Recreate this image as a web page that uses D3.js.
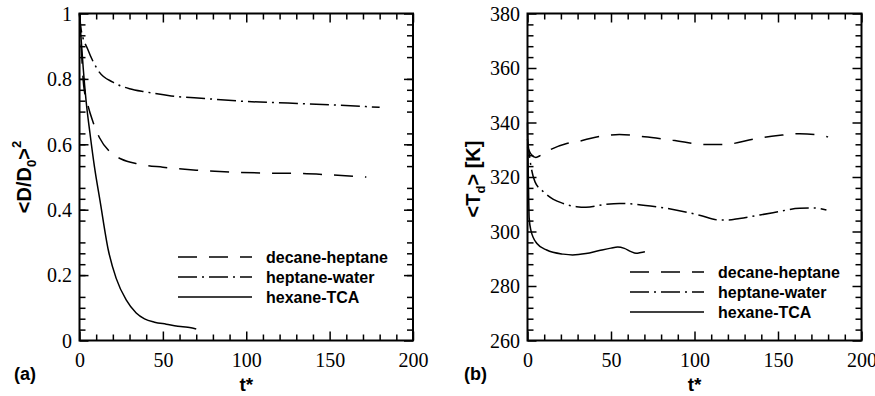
<!DOCTYPE html>
<html>
<head>
<meta charset="utf-8">
<script src="https://cdn.jsdelivr.net/npm/d3@7"></script>
<style>
  body { margin: 0; background: #fff; }
  svg { display: block; }
</style>
</head>
<body>
<svg id="chart" width="875" height="396"></svg>
<script>
// ---- data ----
const seriesNames = ["decane-heptane", "heptane-water", "hexane-TCA"]

// panel (a): <D/D0>^2 vs t*
const decDt = [0, 1, 2.5, 5, 8, 12, 18, 25, 35, 50, 70, 92, 112, 132, 152, 172]
const decDv = [1, 0.9, 0.78, 0.72, 0.67, 0.62, 0.578, 0.555, 0.54, 0.53, 0.521, 0.515, 0.512, 0.511, 0.506, 0.5]
const hepDt = [0, 1, 5, 12, 20, 30, 40, 55, 75, 100, 125, 150, 180]
const hepDv = [1, 0.95, 0.89, 0.82, 0.79, 0.77, 0.76, 0.748, 0.74, 0.731, 0.726, 0.721, 0.713]
const hexDt = [0, 1, 2.2, 4, 6.3, 9, 12.3, 17.3, 22, 28, 34, 39, 45, 52, 62, 66, 70]
const hexDv = [1, 0.92, 0.835, 0.73, 0.633, 0.53, 0.428, 0.276, 0.19, 0.124, 0.084, 0.066, 0.056, 0.05, 0.042, 0.04, 0.035]

// panel (b): <Td> [K] vs t*
const decTt = [0, 2, 5, 8, 13.5, 23.5, 31.4, 40, 47, 55, 70, 87, 107, 117, 137, 150, 163, 172, 180]
const decTv = [331, 328.5, 327.2, 328, 330, 332.3, 333.2, 334.5, 335.2, 335.6, 334.8, 333.5, 331.9, 331.9, 334.1, 335.2, 335.9, 335.6, 334.7]
const hepTt = [0, 1.5, 4.5, 9.5, 15.5, 21.4, 29.4, 35, 47, 55, 77, 103, 115, 120, 127, 147, 163, 172, 179]
const hepTv = [334, 326.2, 318.2, 314.6, 311.8, 310.3, 309.1, 308.9, 310, 310.3, 309.1, 306, 304.2, 304.2, 304.8, 306.9, 308.5, 308.6, 307.9]
const hexTt = [0, 0.5, 1, 2, 5.5, 11.5, 21.4, 27, 35, 43, 50, 54, 58, 62, 65, 68, 70.3]
const hexTv = [340, 320, 305, 300.5, 295.7, 293.2, 291.7, 291.4, 291.9, 293, 293.9, 294.3, 293.8, 292.6, 292, 292.3, 292.6]

const xTicks = [0, 50, 100, 150, 200]
const yTicksD = [0, 0.2, 0.4, 0.6, 0.8, 1]
const yTicksT = [260, 280, 300, 320, 340, 360, 380]

const dashes = ["19,12", "19,5,2,5", null]

const svg = d3.select("#chart")
const serif = "'Liberation Serif', 'Times New Roman', serif"
const sans = "'Liberation Sans', Arial, sans-serif"

function zip(t, v) { return t.map((d, i) => [d, v[i]]) }

function drawPanel(opts) {
  const g = svg.append("g")
  const x = d3.scaleLinear().domain([0, 200]).range([opts.left, opts.right])
  const y = d3.scaleLinear().domain(opts.yDomain).range([opts.bottom, opts.top])
  const xMinor = d3.range(0, 201, 10).filter(d => d % 50 != 0)
  const yStep = (opts.yDomain[1] - opts.yDomain[0]) / 30
  const yMinor = d3.range(0, 31).map(i => opts.yDomain[0] + i * yStep).filter((d, i) => i % 5 != 0)

  // ticks on all four sides, pointing inward; [axis, transform, label side]
  const axes = [
    [d3.axisBottom(x).tickValues(xTicks).tickSize(-9).tickFormat(d => d), "translate(0," + opts.bottom + ")", "x"],
    [d3.axisBottom(x).tickValues(xMinor).tickSize(-6).tickFormat(""), "translate(0," + opts.bottom + ")", ""],
    [d3.axisTop(x).tickValues(xTicks).tickSize(-9).tickFormat(""), "translate(0," + opts.top + ")", ""],
    [d3.axisTop(x).tickValues(xMinor).tickSize(-6).tickFormat(""), "translate(0," + opts.top + ")", ""],
    [d3.axisLeft(y).tickValues(opts.yTicks).tickSize(-9).tickFormat(d => d), "translate(" + opts.left + ",0)", "y"],
    [d3.axisLeft(y).tickValues(yMinor).tickSize(-6).tickFormat(""), "translate(" + opts.left + ",0)", ""],
    [d3.axisRight(y).tickValues(opts.yTicks).tickSize(-9).tickFormat(""), "translate(" + opts.right + ",0)", ""],
    [d3.axisRight(y).tickValues(yMinor).tickSize(-6).tickFormat(""), "translate(" + opts.right + ",0)", ""]
  ]
  axes.forEach(a => {
    const ag = g.append("g").attr("transform", a[1]).call(a[0])
    ag.attr("font-family", null).attr("font-size", null)
    ag.select(".domain").remove()
    ag.selectAll(".tick line").attr("stroke", "#000").attr("stroke-width", 1.5)
    const txt = ag.selectAll(".tick text")
      .style("font-family", serif).style("font-size", "20px").attr("fill", "#000")
    if (a[2] == "x") txt.attr("y", 26.5).attr("dy", null)
    if (a[2] == "y") txt.attr("x", -7.5).attr("dy", "0.34em")
  })

  g.append("rect").attr("x", opts.left).attr("y", opts.top)
    .attr("width", opts.right - opts.left).attr("height", opts.bottom - opts.top)
    .attr("fill", "none").attr("stroke", "#000").attr("stroke-width", 2)

  const line = d3.line().curve(d3.curveMonotoneX).x(d => x(d[0])).y(d => y(d[1]))
  g.selectAll(".curve").data(opts.series).join("path").attr("class", "curve")
    .attr("d", d => line(d))
    .attr("fill", "none").attr("stroke", "#000").attr("stroke-width", 1.5)
    .attr("stroke-dasharray", (d, i) => dashes[i])

  // legend
  const lg = g.append("g").attr("transform", "translate(" + opts.legX + "," + opts.legY + ")")
  const rows = lg.selectAll("g").data(seriesNames).join("g")
    .attr("transform", (d, i) => "translate(0," + (i * 20) + ")")
  rows.append("line").attr("x1", 0).attr("x2", 74).attr("y1", 0).attr("y2", 0)
    .attr("stroke", "#000").attr("stroke-width", 1.5)
    .attr("stroke-dasharray", (d, i) => dashes[i])
  rows.append("text").attr("x", 88).attr("y", 6).text(d => d)
    .style("font-family", sans).style("font-weight", "bold").style("font-size", "16px")

  // axis titles
  const cx = (opts.left + opts.right) / 2
  g.append("text").attr("x", cx).attr("y", 391).attr("text-anchor", "middle")
    .style("font-family", sans).style("font-weight", "bold").style("font-size", "19px").text("t*")
  g.append("text").attr("x", opts.tagX).attr("y", 380)
    .style("font-family", sans).style("font-weight", "bold").style("font-size", "18px").text(opts.tag)

  const yt = g.append("text")
    .attr("transform", "translate(" + opts.ytX + "," + opts.ytY + ") rotate(-90)")
    .attr("text-anchor", "middle")
    .style("font-family", sans).style("font-weight", "bold").style("font-size", "20px")
  opts.yTitle(yt)
}

drawPanel({
  left: 79.5, right: 413, top: 13.5, bottom: 340.5,
  yDomain: [0, 1], yTicks: yTicksD,
  series: [zip(decDt, decDv), zip(hepDt, hepDv), zip(hexDt, hexDv)],
  legX: 178, legY: 257, tag: "(a)", tagX: 14,
  ytX: 31, ytY: 177,
  yTitle: t => {
    t.append("tspan").text("<D/D")
    t.append("tspan").style("font-size", "13px").attr("dy", 5).text("0")
    t.append("tspan").attr("dy", -5).text(">")
    t.append("tspan").style("font-size", "13px").attr("dy", -10).text("2")
  }
})

drawPanel({
  left: 527.5, right: 861.5, top: 13.5, bottom: 340.5,
  yDomain: [260, 380], yTicks: yTicksT,
  series: [zip(decTt, decTv), zip(hepTt, hepTv), zip(hexTt, hexTv)],
  legX: 630, legY: 272, tag: "(b)", tagX: 464,
  ytX: 480, ytY: 179,
  yTitle: t => {
    t.append("tspan").text("<T")
    t.append("tspan").style("font-size", "13px").attr("dy", 5).text("d")
    t.append("tspan").attr("dy", -5).text("> [K]")
  }
})
</script>
</body>
</html>
